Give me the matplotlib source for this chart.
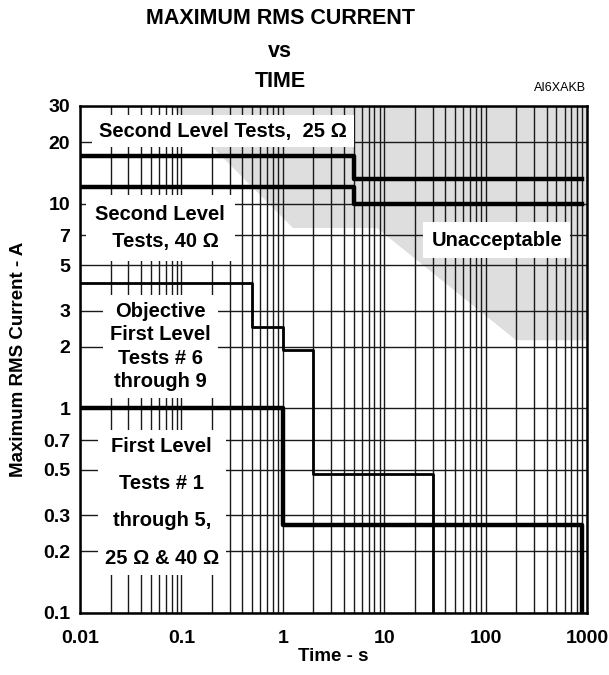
import matplotlib
matplotlib.use("Agg")
import matplotlib.pyplot as plt
from matplotlib.ticker import FixedLocator, NullLocator, LogLocator, NullFormatter

plt.rcParams['font.family'] = ['Liberation Sans', 'DejaVu Sans']

# second level tests (25 and 40 ohm)
second25_t = [0.01, 5, 900]
second25_i = [17, 13.2, 13.2]
second40_t = [0.01, 5, 900]
second40_i = [12, 10, 10]

# objective first level tests 6-9
objective_t = [0.01, 0.5, 1, 2, 30]
objective_i = [4.1, 2.5, 1.93, 0.48, 0.1]

# first level tests 1-5
first_t = [0.01, 1, 900]
first_i = [1, 0.27, 0.1]

# unacceptable region outline
gray_t = [0.08, 1.26, 8.5, 200, 1000, 1000]
gray_i = [30, 7.6, 7.6, 2.15, 2.15, 30]

x_ticks = [0.01, 0.1, 1, 10, 100, 1000]
x_labels = ["0.01", "0.1", "1", "10", "100", "1000"]
y_ticks = [0.1, 0.2, 0.3, 0.5, 0.7, 1, 2, 3, 5, 7, 10, 20, 30]
y_labels = ["0.1", "0.2", "0.3", "0.5", "0.7", "1", "2", "3", "5", "7", "10", "20", "30"]


def make_graph():
    fig = plt.figure(figsize=(6.09, 6.75), dpi=100)
    ax = fig.add_axes([0.1314, 0.0919, 0.8325, 0.7511])
    ax.set_xscale("log")
    ax.set_yscale("log")
    ax.set_xlim(0.01, 1000)
    ax.set_ylim(0.1, 30)

    ax.fill(gray_t, gray_i, color="#dedede", lw=0, zorder=0)

    ax.xaxis.set_major_locator(FixedLocator(x_ticks))
    ax.set_xticklabels(x_labels)
    ax.xaxis.set_minor_locator(LogLocator(base=10, subs=range(2, 10)))
    ax.xaxis.set_minor_formatter(NullFormatter())
    ax.yaxis.set_major_locator(FixedLocator(y_ticks))
    ax.set_yticklabels(y_labels)
    ax.yaxis.set_minor_locator(NullLocator())
    ax.grid(which="both", axis="x", color="#1a1a1a", lw=1.0, zorder=1)
    ax.grid(which="major", axis="y", color="#1a1a1a", lw=1.0, zorder=1)
    ax.tick_params(which="both", length=0, labelsize=14)
    ax.tick_params(axis="x", pad=12)
    ax.tick_params(axis="y", pad=7)
    for lab in ax.get_xticklabels() + ax.get_yticklabels():
        lab.set_fontweight("bold")
    for sp in ax.spines.values():
        sp.set_linewidth(1.8)
        sp.set_zorder(5)

    ax.step(second25_t, second25_i, where="post", color="black", lw=3.2, zorder=3)
    ax.step(second40_t, second40_i, where="post", color="black", lw=3.2, zorder=3)
    ax.step(objective_t, objective_i, where="post", color="black", lw=2.0, zorder=3)
    ax.step(first_t, first_i, where="post", color="black", lw=3.2, zorder=3)

    kw = dict(ha="center", va="center", fontsize=14.5, fontweight="bold", zorder=4)
    ax.text(0.257, 22.6, "Second Level Tests,  25 \u03a9",
            bbox=dict(facecolor="white", edgecolor="none", pad=5), **kw)
    ax.text(0.062, 7.6, "Second Level\n  Tests, 40 \u03a9", linespacing=1.55,
            bbox=dict(facecolor="white", edgecolor="none", pad=7), **kw)
    ax.text(129, 6.64, "Unacceptable",
            bbox=dict(facecolor="white", edgecolor="none", pad=6), **kw)
    ax.text(0.062, 2.0, "Objective\nFirst Level\nTests # 6\nthrough 9", linespacing=1.3,
            bbox=dict(facecolor="white", edgecolor="none", pad=5), **kw)
    ax.text(0.064, 0.348, "First Level\n\nTests # 1\n\nthrough 5,\n\n25 \u03a9 & 40 \u03a9",
            linespacing=0.98, bbox=dict(facecolor="white", edgecolor="none", pad=5), **kw)

    ax.set_xlabel("Time - s", fontsize=13.5, fontweight="bold", labelpad=1)
    ax.set_ylabel("Maximum RMS Current - A", fontsize=13.5, fontweight="bold", labelpad=12)

    fig.text(0.46, 0.973, "MAXIMUM RMS CURRENT", ha="center", va="center",
             fontsize=15.5, fontweight="bold")
    fig.text(0.46, 0.924, "vs", ha="center", va="center", fontsize=15.5, fontweight="bold")
    fig.text(0.46, 0.879, "TIME", ha="center", va="center", fontsize=15.5, fontweight="bold")
    fig.text(0.92, 0.869, "AI6XAKB", ha="center", va="center", fontsize=9)

    fig.savefig("out.png", dpi=100)


def main():
    make_graph()


if __name__ == "__main__":
    main()
